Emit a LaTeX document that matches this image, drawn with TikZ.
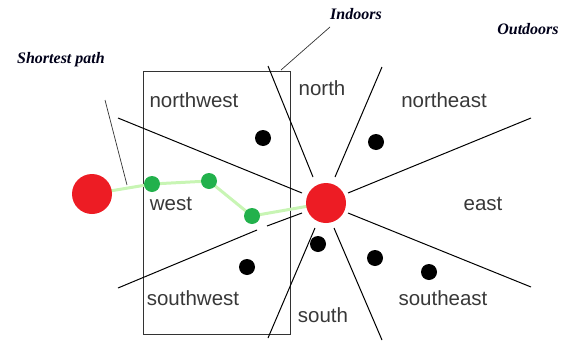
\documentclass[tikz,border=0pt]{standalone}
\usepackage{fontspec}
\setmainfont{Liberation Sans}
\newfontfamily\labelserif{Liberation Serif}
\definecolor{paintred}{HTML}{ED1C24}
\definecolor{paintgreen}{HTML}{22B14C}
\definecolor{palegreen}{HTML}{C8F5B4}
\begin{document}
\begin{tikzpicture}[x=1pt,y=-1pt,
  ray/.style={draw=black,line width=1pt},
  reddot/.style={circle,fill=paintred,draw=none,minimum size=40pt,inner sep=0pt},
  greendot/.style={circle,fill=paintgreen,draw=none,minimum size=16pt,inner sep=0pt},
  blackdot/.style={circle,fill=black,draw=none,minimum size=16pt,inner sep=0pt},
  region/.style={text=black!78,font=\fontsize{20.5}{24}\selectfont,inner sep=0pt},
  callout/.style={font=\labelserif\bfseries\itshape\fontsize{16}{19}\selectfont,text=black!90!blue,inner sep=0pt},
  leader/.style={draw=black!80,line width=0.7pt},
  pathline/.style={draw=palegreen,line width=3pt}]
\useasboundingbox (0,0) rectangle (568,343);
% indoor rectangle
\draw[black!80,line width=0.8pt] (143,71) rectangle (290,334);
% ray end points
\coordinate (nwA) at (118,118); \coordinate (nwB) at (302,193);
\coordinate (nA) at (268,66);  \coordinate (nB) at (313,177);
\coordinate (neA) at (382,67); \coordinate (neB) at (335,177);
\coordinate (eA) at (531,118); \coordinate (eB) at (348,193);
\coordinate (seA) at (531,287); \coordinate (seB) at (348,213);
\coordinate (sA) at (382,340); \coordinate (sB) at (334,228);
\coordinate (swA) at (268,338); \coordinate (swB) at (315,228);
\coordinate (wA) at (118,288); \coordinate (wB) at (257,230);
\coordinate (wC) at (267,226); \coordinate (wD) at (302,213);
\draw[ray] (nwA) -- (nwB);
\draw[ray] (nA) -- (nB);
\draw[ray] (neA) -- (neB);
\draw[ray] (eA) -- (eB);
\draw[ray] (seA) -- (seB);
\draw[ray] (sA) -- (sB);
\draw[ray] (swA) -- (swB);
\draw[ray] (wA) -- (wB);
\draw[ray] (wC) -- (wD);
% path (drawn under the dots)
\coordinate (startc) at (92,194);
\coordinate (goalc) at (326,203);
\coordinate (g1c) at (152,184);
\coordinate (g2c) at (209,181);
\coordinate (g3c) at (252,216);
\draw[pathline] (startc) -- (g1c) -- (g2c) -- (g3c) -- (goalc);
% nodes
\node[reddot] (start) at (startc) {};
\node[reddot] (goal) at (goalc) {};
\node[greendot] (g1) at (g1c) {};
\node[greendot] (g2) at (g2c) {};
\node[greendot] (g3) at (g3c) {};
\node[blackdot] (b1) at (263,138) {};
\node[blackdot] (b2) at (376,142) {};
\node[blackdot] (b3) at (247,267) {};
\node[blackdot] (b4) at (318,244) {};
\node[blackdot] (b5) at (375,258) {};
\node[blackdot] (b6) at (429,272) {};
% region labels
\node[region] (lnw) at (194,100) {northwest};
\node[region] (ln) at (322,88) {north};
\node[region] (lne) at (444,100) {northeast};
\node[region] (lw) at (171,204) {west};
\node[region] (le) at (483,204) {east};
\node[region] (lsw) at (193,298) {southwest};
\node[region] (ls) at (323,315) {south};
\node[region] (lse) at (443,298) {southeast};
% callouts
\node[callout] (sp) at (61,60) {Shortest path};
\node[callout] (ind) at (356,14) {Indoors};
\node[callout] (outd) at (528,29) {Outdoors};
\coordinate (spA) at (105,100); \coordinate (spB) at (127,185);
\coordinate (inA) at (330,27); \coordinate (inB) at (281,70);
\draw[leader] (spA) -- (spB);
\draw[leader] (inA) -- (inB);
\end{tikzpicture}
\end{document}
